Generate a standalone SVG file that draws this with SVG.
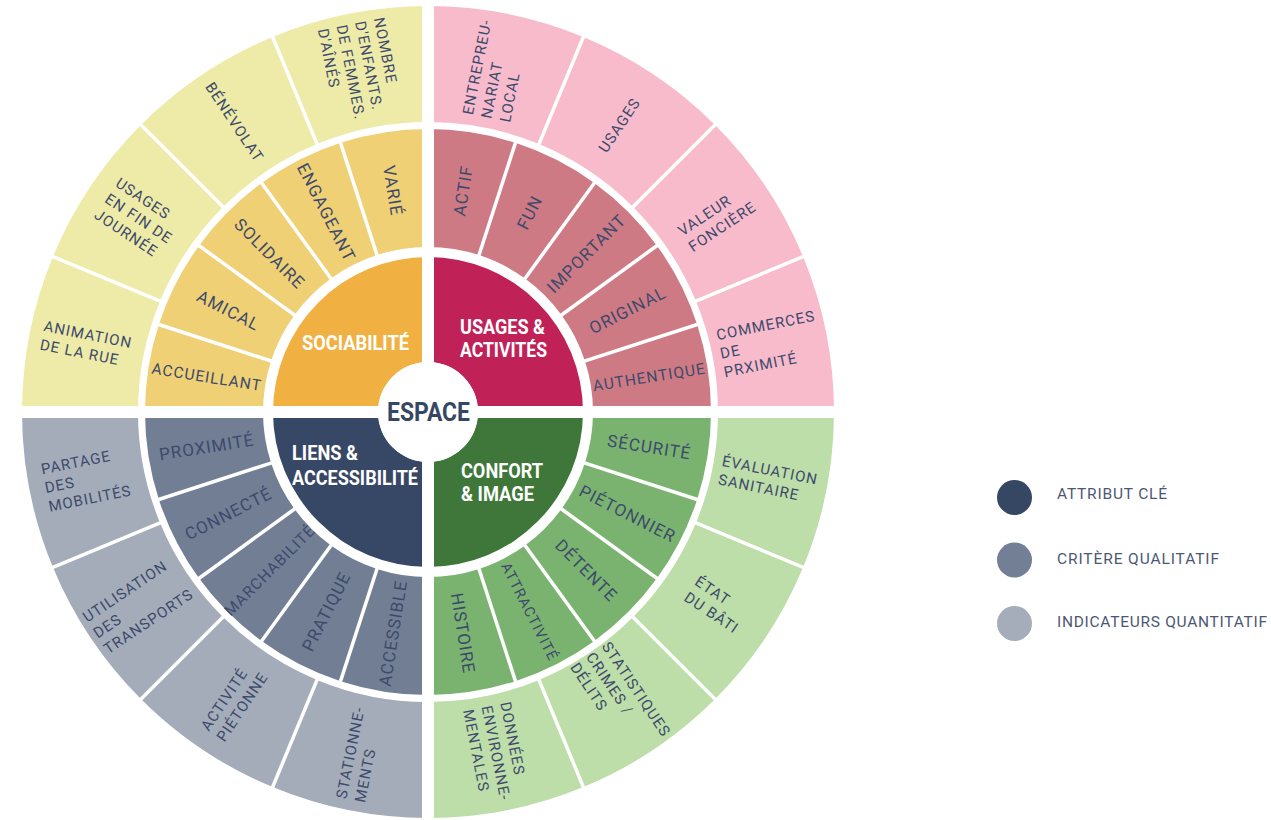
<svg xmlns="http://www.w3.org/2000/svg" xmlns:xlink="http://www.w3.org/1999/xlink" width="1271" height="820" viewBox="0 0 1271 820">
<style>
text{font-family:Roboto,"Liberation Sans",sans-serif}
.m{font-size:17px;letter-spacing:1px;fill:#3D4A6B;text-anchor:middle}
.o{font-size:15px;letter-spacing:1px;fill:#3D4A6B}
.c{font-size:21px;font-weight:700;fill:#FFFFFF}
.lg{font-size:15.5px;fill:#4B5874}
.sep{stroke:#FFFFFF;stroke-width:3.5}
</style>
<defs>
<path id="core" d="M583 412A155 155 0 0 1 428 567L428 462A50 50 0 0 0 478 412Z"/>
<path id="mid" d="M711 412A283 283 0 0 1 697.149 499.452L584.924 462.988A165 165 0 0 0 593 412Z"/>
<path id="out" d="M834 412A406 406 0 0 1 803.095 567.369L695.925 522.978A290 290 0 0 0 718 412Z"/>
<line id="ms" x1="590" y1="412" x2="716" y2="412"/>
<line id="os" x1="716" y1="412" x2="838" y2="412"/>
</defs>
<rect width="1271" height="820" fill="#FFFFFF"/>

<!-- SOCIABILITE (top-left) -->
<g id="sociabilite">
<use href="#core" transform="rotate(180 428 412)" fill="#F0B142"/>
<text class="c" x="302" y="350" textLength="107" lengthAdjust="spacingAndGlyphs">SOCIABILITÉ</text>
</g>
<g id="accueillant"><use href="#mid" transform="rotate(180 428 412)" fill="#EFD075"/><text class="m" style="font-size:15.5px" x="204" y="412" dy="0.35em" transform="rotate(9 428 412)">ACCUEILLANT</text></g>
<g id="amical"><use href="#mid" transform="rotate(198 428 412)" fill="#EFD075"/><text class="m" x="204" y="412" dy="0.35em" transform="rotate(27 428 412)">AMICAL</text></g>
<g id="solidaire"><use href="#mid" transform="rotate(216 428 412)" fill="#EFD075"/><text class="m" x="204" y="412" dy="0.35em" transform="rotate(45 428 412)">SOLIDAIRE</text></g>
<g id="engageant"><use href="#mid" transform="rotate(234 428 412)" fill="#EFD075"/><text class="m" x="204" y="412" dy="0.35em" transform="rotate(63 428 412)">ENGAGEANT</text></g>
<g id="varie"><use href="#mid" transform="rotate(252 428 412)" fill="#EFD075"/><text class="m" x="204" y="412" dy="0.35em" transform="rotate(81 428 412)">VARIÉ</text></g>
<g id="animation"><use href="#out" transform="rotate(180 428 412)" fill="#EDEBA7"/><text class="o" transform="rotate(11.25 428 412)"><tspan x="34.5" y="407.5">ANIMATION</tspan><tspan x="34.5" y="426.5">DE LA RUE</tspan></text></g>
<g id="usages-fin-journee"><use href="#out" transform="rotate(202.5 428 412)" fill="#EDEBA7"/><text class="o" transform="rotate(33.75 428 412)"><tspan x="41.5" y="398">USAGES</tspan><tspan x="41.5" y="417">EN FIN DE</tspan><tspan x="41.5" y="436">JOURNÉE</tspan></text></g>
<g id="benevolat"><use href="#out" transform="rotate(225 428 412)" fill="#EDEBA7"/><text class="o" transform="rotate(56.25 428 412)"><tspan x="33.5" y="417">BÉNÉVOLAT</tspan></text></g>
<g id="nombre"><use href="#out" transform="rotate(247.5 428 412)" fill="#EDEBA7"/><text class="o" transform="rotate(78.75 428 412)"><tspan x="31.5" y="388.5">NOMBRE</tspan><tspan x="31.5" y="407.5">D'ENFANTS.</tspan><tspan x="31.5" y="426.5">DE FEMMES.</tspan><tspan x="31.5" y="445.5">D'AÎNÉS</tspan></text></g>

<!-- USAGES & ACTIVITES (top-right) -->
<g id="usages-activites">
<use href="#core" transform="rotate(270 428 412)" fill="#C02157"/>
<text class="c"><tspan x="460" y="334" textLength="85" lengthAdjust="spacingAndGlyphs">USAGES &amp;</tspan></text>
<text class="c"><tspan x="460" y="357" textLength="87" lengthAdjust="spacingAndGlyphs">ACTIVITÉS</tspan></text>
</g>
<g id="actif"><use href="#mid" transform="rotate(270 428 412)" fill="#CE7A84"/><text class="m" x="652" y="412" dy="0.35em" transform="rotate(-81 428 412)">ACTIF</text></g>
<g id="fun"><use href="#mid" transform="rotate(288 428 412)" fill="#CE7A84"/><text class="m" x="652" y="412" dy="0.35em" transform="rotate(-63 428 412)">FUN</text></g>
<g id="important"><use href="#mid" transform="rotate(306 428 412)" fill="#CE7A84"/><text class="m" x="652" y="412" dy="0.35em" transform="rotate(-45 428 412)">IMPORTANT</text></g>
<g id="original"><use href="#mid" transform="rotate(324 428 412)" fill="#CE7A84"/><text class="m" x="652" y="412" dy="0.35em" transform="rotate(-27 428 412)">ORIGINAL</text></g>
<g id="authentique"><use href="#mid" transform="rotate(342 428 412)" fill="#CE7A84"/><text class="m" style="font-size:15.5px" x="652" y="412" dy="0.35em" transform="rotate(-9 428 412)">AUTHENTIQUE</text></g>
<g id="entrepreneuriat"><use href="#out" transform="rotate(270 428 412)" fill="#F8BBCB"/><text class="o" transform="rotate(-78.75 428 412)"><tspan x="727.5" y="398">ENTREPREU-</tspan><tspan x="727.5" y="417">NARIAT</tspan><tspan x="727.5" y="436">LOCAL</tspan></text></g>
<g id="usages"><use href="#out" transform="rotate(292.5 428 412)" fill="#F8BBCB"/><text class="o" transform="rotate(-56.25 428 412)"><tspan x="742" y="417">USAGES</tspan></text></g>
<g id="valeur-fonciere"><use href="#out" transform="rotate(315 428 412)" fill="#F8BBCB"/><text class="o" transform="rotate(-33.75 428 412)"><tspan x="737" y="407.5">VALEUR</tspan><tspan x="737" y="426.5">FONCIÈRE</tspan></text></g>
<g id="commerces"><use href="#out" transform="rotate(337.5 428 412)" fill="#F8BBCB"/><text class="o" transform="rotate(-11.25 428 412)"><tspan x="726" y="398">COMMERCES</tspan><tspan x="726" y="417">DE</tspan><tspan x="726" y="436">PRXIMITÉ</tspan></text></g>

<!-- CONFORT & IMAGE (bottom-right) -->
<g id="confort-image">
<use href="#core" fill="#3E7739"/>
<text class="c"><tspan x="461" y="478" textLength="82" lengthAdjust="spacingAndGlyphs">CONFORT</tspan></text>
<text class="c"><tspan x="461" y="501" textLength="73" lengthAdjust="spacingAndGlyphs">&amp; IMAGE</tspan></text>
</g>
<g id="securite"><use href="#mid" fill="#7AB36F"/><text class="m" x="652" y="412" dy="0.35em" transform="rotate(9 428 412)">SÉCURITÉ</text></g>
<g id="pietonnier"><use href="#mid" transform="rotate(18 428 412)" fill="#7AB36F"/><text class="m" x="652" y="412" dy="0.35em" transform="rotate(27 428 412)">PIÉTONNIER</text></g>
<g id="detente"><use href="#mid" transform="rotate(36 428 412)" fill="#7AB36F"/><text class="m" x="652" y="412" dy="0.35em" transform="rotate(45 428 412)">DÉTENTE</text></g>
<g id="attractivite"><use href="#mid" transform="rotate(54 428 412)" fill="#7AB36F"/><text class="m" style="font-size:14.5px" x="652" y="412" dy="0.35em" transform="rotate(63 428 412)">ATTRACTIVITÉ</text></g>
<g id="histoire"><use href="#mid" transform="rotate(72 428 412)" fill="#7AB36F"/><text class="m" x="652" y="412" dy="0.35em" transform="rotate(81 428 412)">HISTOIRE</text></g>
<g id="evaluation"><use href="#out" fill="#BDDDA9"/><text class="o" transform="rotate(11.25 428 412)"><tspan x="726" y="407.5">ÉVALUATION</tspan><tspan x="726" y="426.5">SANITAIRE</tspan></text></g>
<g id="etat-bati"><use href="#out" transform="rotate(22.5 428 412)" fill="#BDDDA9"/><text class="o" transform="rotate(33.75 428 412)"><tspan x="744.5" y="407.5">ÉTAT</tspan><tspan x="744.5" y="426.5">DU BÂTI</tspan></text></g>
<g id="statistiques"><use href="#out" transform="rotate(45 428 412)" fill="#BDDDA9"/><text class="o" transform="rotate(56.25 428 412)"><tspan x="719" y="398">STATISTIQUES</tspan><tspan x="719" y="417">CRIMES /</tspan><tspan x="719" y="436">DÉLITS</tspan></text></g>
<g id="donnees"><use href="#out" transform="rotate(67.5 428 412)" fill="#BDDDA9"/><text class="o" transform="rotate(78.75 428 412)"><tspan x="727.5" y="398">DONNÉES</tspan><tspan x="727.5" y="417">ENVIRONNE-</tspan><tspan x="727.5" y="436">MENTALES</tspan></text></g>

<!-- LIENS & ACCESSIBILITE (bottom-left) -->
<g id="liens-accessibilite">
<use href="#core" transform="rotate(90 428 412)" fill="#374766"/>
<text class="c"><tspan x="292" y="460" textLength="66" lengthAdjust="spacingAndGlyphs">LIENS &amp;</tspan></text>
<text class="c"><tspan x="292" y="485" textLength="126" lengthAdjust="spacingAndGlyphs">ACCESSIBILITÉ</tspan></text>
</g>
<g id="accessible"><use href="#mid" transform="rotate(90 428 412)" fill="#717E94"/><text class="m" x="204" y="412" dy="0.35em" transform="rotate(-81 428 412)">ACCESSIBLE</text></g>
<g id="pratique"><use href="#mid" transform="rotate(108 428 412)" fill="#717E94"/><text class="m" x="204" y="412" dy="0.35em" transform="rotate(-63 428 412)">PRATIQUE</text></g>
<g id="marchabilite"><use href="#mid" transform="rotate(126 428 412)" fill="#717E94"/><text class="m" style="font-size:15.5px" x="204" y="412" dy="0.35em" transform="rotate(-45 428 412)">MARCHABILITÉ</text></g>
<g id="connecte"><use href="#mid" transform="rotate(144 428 412)" fill="#717E94"/><text class="m" x="204" y="412" dy="0.35em" transform="rotate(-27 428 412)">CONNECTÉ</text></g>
<g id="proximite"><use href="#mid" transform="rotate(162 428 412)" fill="#717E94"/><text class="m" x="204" y="412" dy="0.35em" transform="rotate(-9 428 412)">PROXIMITÉ</text></g>
<g id="stationnements"><use href="#out" transform="rotate(90 428 412)" fill="#A4ACB9"/><text class="o" transform="rotate(-78.75 428 412)"><tspan x="32" y="407.5">STATIONNE-</tspan><tspan x="32" y="426.5">MENTS</tspan></text></g>
<g id="activite-pietonne"><use href="#out" transform="rotate(112.5 428 412)" fill="#A4ACB9"/><text class="o" transform="rotate(-56.25 428 412)"><tspan x="40" y="407.5">ACTIVITÉ</tspan><tspan x="40" y="426.5">PIÉTONNE</tspan></text></g>
<g id="utilisation-transports"><use href="#out" transform="rotate(135 428 412)" fill="#A4ACB9"/><text class="o" transform="rotate(-33.75 428 412)"><tspan x="27.5" y="398">UTILISATION</tspan><tspan x="27.5" y="417">DES</tspan><tspan x="27.5" y="436">TRANSPORTS</tspan></text></g>
<g id="partage-mobilites"><use href="#out" transform="rotate(157.5 428 412)" fill="#A4ACB9"/><text class="o" transform="rotate(-11.25 428 412)"><tspan x="37.5" y="398">PARTAGE</tspan><tspan x="37.5" y="417">DES</tspan><tspan x="37.5" y="436">MOBILITÉS</tspan></text></g>

<!-- white separators -->
<g id="separators" class="sep">
<use href="#ms" transform="rotate(18 428 412)"/><use href="#ms" transform="rotate(36 428 412)"/><use href="#ms" transform="rotate(54 428 412)"/><use href="#ms" transform="rotate(72 428 412)"/>
<use href="#ms" transform="rotate(108 428 412)"/><use href="#ms" transform="rotate(126 428 412)"/><use href="#ms" transform="rotate(144 428 412)"/><use href="#ms" transform="rotate(162 428 412)"/>
<use href="#ms" transform="rotate(198 428 412)"/><use href="#ms" transform="rotate(216 428 412)"/><use href="#ms" transform="rotate(234 428 412)"/><use href="#ms" transform="rotate(252 428 412)"/>
<use href="#ms" transform="rotate(288 428 412)"/><use href="#ms" transform="rotate(306 428 412)"/><use href="#ms" transform="rotate(324 428 412)"/><use href="#ms" transform="rotate(342 428 412)"/>
<use href="#os" transform="rotate(22.5 428 412)"/><use href="#os" transform="rotate(45 428 412)"/><use href="#os" transform="rotate(67.5 428 412)"/>
<use href="#os" transform="rotate(112.5 428 412)"/><use href="#os" transform="rotate(135 428 412)"/><use href="#os" transform="rotate(157.5 428 412)"/>
<use href="#os" transform="rotate(202.5 428 412)"/><use href="#os" transform="rotate(225 428 412)"/><use href="#os" transform="rotate(247.5 428 412)"/>
<use href="#os" transform="rotate(292.5 428 412)"/><use href="#os" transform="rotate(315 428 412)"/><use href="#os" transform="rotate(337.5 428 412)"/>
<rect x="422" y="0" width="12" height="820" fill="#FFFFFF" stroke="none"/>
<rect x="0" y="406" width="860" height="12" fill="#FFFFFF" stroke="none"/>
</g>

<g id="espace">
<circle cx="428" cy="412" r="50" fill="#FFFFFF"/>
<text x="387" y="421" textLength="83" lengthAdjust="spacingAndGlyphs" style="font-size:25px;font-weight:700;fill:#364764">ESPACE</text>
</g>

<g id="legend">
<circle cx="1014.5" cy="497.5" r="17.5" fill="#364764"/>
<text class="lg" x="1057" y="498.5" textLength="110">ATTRIBUT CLÉ</text>
<circle cx="1014.5" cy="560" r="17.5" fill="#737F95"/>
<text class="lg" x="1057" y="564" textLength="162">CRITÈRE QUALITATIF</text>
<circle cx="1014.5" cy="623.5" r="17.5" fill="#A5ADBA"/>
<text class="lg" x="1057" y="627" textLength="210">INDICATEURS QUANTITATIF</text>
</g>
</svg>
